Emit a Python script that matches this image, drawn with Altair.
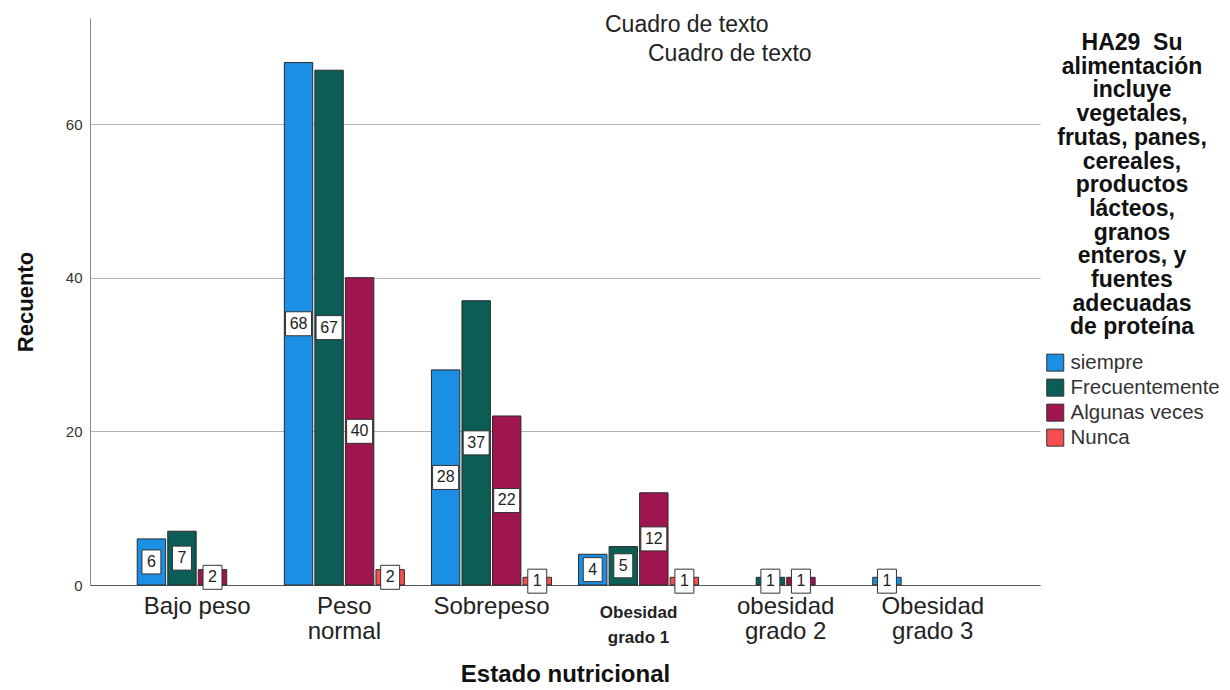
import altair as alt
import pandas as pd

# Nutritional status groups and answer categories
categories = ["Bajo peso", "Peso normal", "Sobrepeso", "Obesidad grado 1",
              "obesidad grado 2", "Obesidad grado 3"]
series = ["siempre", "Frecuentemente", "Algunas veces", "Nunca"]
colors = ["#1a8fe3", "#0d5d57", "#9e1550", "#f74f50"]

# Counts per group for each answer
siempre = [6, 68, 28, 4, 0, 1]
frecuentemente = [7, 67, 37, 5, 1, 0]
algunas_veces = [2, 40, 22, 12, 1, 0]
nunca = [0, 2, 1, 1, 0, 0]

y_ticks = [0, 20, 40, 60]

# Category tick labels, split into lines
category_lines = {
    "Bajo peso": ["Bajo peso"],
    "Peso normal": ["Peso", "normal"],
    "Sobrepeso": ["Sobrepeso"],
    "Obesidad grado 1": ["Obesidad", "grado 1"],
    "obesidad grado 2": ["obesidad", "grado 2"],
    "Obesidad grado 3": ["Obesidad", "grado 3"],
}

legend_title = ["HA29\u00a0 Su", "alimentación", "incluye", "vegetales,",
                "frutas, panes,", "cereales,", "productos", "lácteos,",
                "granos", "enteros, y", "fuentes", "adecuadas", "de proteína"]

text_boxes = ["Cuadro de texto", "Cuadro de texto"]

FONT = "Liberation Sans"

rows = []
for name, values in zip(series, [siempre, frecuentemente, algunas_veces, nunca]):
    for cat, v in zip(categories, values):
        if v > 0:
            rows.append({"estado": cat, "respuesta": name, "recuento": v})
df = pd.DataFrame(rows)


def lines_expr(mapping):
    expr = "datum.label"
    for key, lines in reversed(list(mapping.items())):
        arr = "[" + ", ".join("'" + l + "'" for l in lines) + "]"
        expr = f"datum.label == '{key}' ? {arr} : ({expr})"
    return expr


bold_test = "datum.value == 'Obesidad grado 1'"

x_enc = alt.X(
    "estado:N",
    sort=categories,
    scale=alt.Scale(domain=categories, paddingInner=0.184, paddingOuter=0.321),
    axis=alt.Axis(
        title="Estado nutricional",
        labelAngle=0,
        labelExpr=lines_expr(category_lines),
        ticks=False,
        domainColor="#555555",
        labelFont=FONT,
        labelColor="#222222",
        labelFontSize={"condition": {"test": bold_test, "value": 17}, "value": 24},
        labelFontWeight={"condition": {"test": bold_test, "value": "bold"}, "value": "normal"},
        labelPadding={"condition": {"test": bold_test, "value": 19}, "value": 9},
        labelLineHeight=25,
        labelBaseline="top",
        titleFont=FONT,
        titleFontSize=24,
        titleFontWeight="bold",
        titleColor="#111111",
        titlePadding=17,
    ),
)

xoff_enc = alt.XOffset(
    "respuesta:N",
    scale=alt.Scale(domain=series, paddingInner=0.07, paddingOuter=0),
)

y_axis = alt.Axis(
    values=y_ticks,
    title="Recuento",
    ticks=False,
    grid=True,
    gridColor="#b4b4b4",
    domainColor="#888888",
    labelFont=FONT,
    labelFontSize=15,
    labelColor="#333333",
    labelPadding=8,
    titleFont=FONT,
    titleFontSize=22,
    titleFontWeight="bold",
    titleColor="#111111",
    titlePadding=28,
)
y_scale = alt.Scale(domain=[0, 73.8], nice=False)

base = alt.Chart(df)

bars = base.mark_bar(stroke="#2a2a2a", strokeWidth=1).encode(
    x=x_enc,
    xOffset=xoff_enc,
    y=alt.Y("recuento:Q", scale=y_scale, axis=y_axis),
    color=alt.Color(
        "respuesta:N",
        scale=alt.Scale(domain=series, range=colors),
        legend=alt.Legend(
            title=legend_title,
            orient="none",
            legendX=955,
            legendY=14,
            padding=0,
            titleFont=FONT,
            titleFontSize=23,
            titleFontWeight="bold",
            titleColor="#111111",
            titleLineHeight=23.7,
            titleAlign="center",
            titleAnchor="middle",
            titlePadding=13,
            labelFont=FONT,
            labelFontSize=20.5,
            labelColor="#333333",
            symbolType="square",
            symbolSize=289,
            symbolStrokeColor="#333333",
            symbolStrokeWidth=1,
            symbolOpacity=1,
            rowPadding=3,
            labelOffset=5,
        ),
    ),
)

wide_box = "M-1.083,-1L1.083,-1L1.083,1L-1.083,1Z"
narrow_box = "M-0.79,-1L0.79,-1L0.79,1L-0.79,1Z"

mid = base.transform_calculate(mid="datum.recuento / 2")

boxes = mid.mark_point(filled=True, fill="white", stroke="#333333",
                       strokeWidth=1, opacity=1, size=576).encode(
    x=x_enc,
    xOffset=xoff_enc,
    y=alt.Y("mid:Q", scale=y_scale, title="Recuento"),
    shape=alt.condition("datum.recuento >= 10", alt.value(wide_box), alt.value(narrow_box)),
)

labels = mid.mark_text(font=FONT, fontSize=16, color="#222222",
                       baseline="middle", align="center").encode(
    x=x_enc,
    xOffset=xoff_enc,
    y=alt.Y("mid:Q", scale=y_scale, title="Recuento"),
    text=alt.Text("recuento:Q"),
)

note1 = alt.Chart(alt.Data(values=[{"t": text_boxes[0]}])).mark_text(
    font=FONT, fontSize=23, color="#222222", align="left", baseline="middle"
).encode(x=alt.value(515), y=alt.value(7), text="t:N")

note2 = alt.Chart(alt.Data(values=[{"t": text_boxes[1]}])).mark_text(
    font=FONT, fontSize=23, color="#222222", align="left", baseline="middle"
).encode(x=alt.value(558), y=alt.value(36), text="t:N")

chart = alt.layer(bars, boxes, labels, note1, note2).properties(
    width=950,
    height=567,
    autosize=alt.AutoSizeParams(type="none"),
    padding={"left": 90, "top": 18, "right": 190, "bottom": 105},
    background="white",
).configure_view(stroke=None)

chart.save("out.html", embed_options={"renderer": "svg", "actions": False})
